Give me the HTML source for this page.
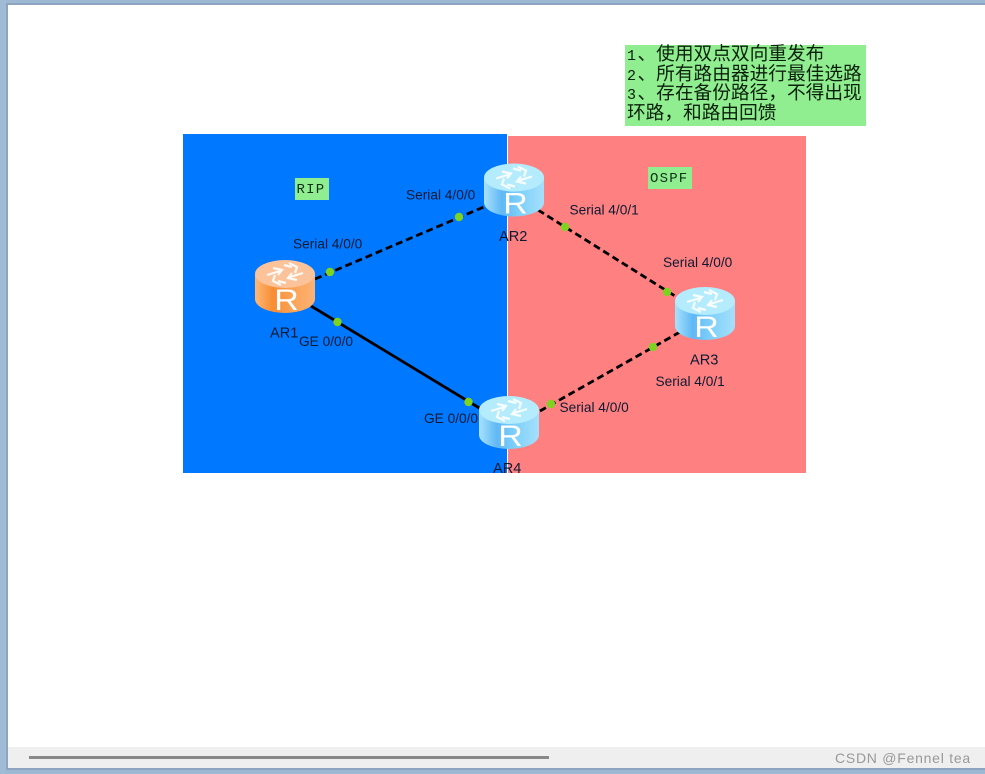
<!DOCTYPE html>
<html>
<head>
<meta charset="utf-8">
<style>
html,body{margin:0;padding:0;background:#fff;}
body{width:985px;height:774px;overflow:hidden;}
svg{display:block;}
.l{font-family:"Liberation Sans",sans-serif;font-size:13.7px;fill:#0b1a33;}
.a{font-family:"Liberation Sans",sans-serif;font-size:14.6px;fill:#0b1a33;}
.c{font-family:"Liberation Sans","WenQuanYi Zen Hei",sans-serif;font-size:18.7px;fill:#0a200a;}
.m{font-family:"Liberation Mono",monospace;font-size:14px;fill:#10301a;letter-spacing:1.2px;}
</style>
</head>
<body>
<svg width="985" height="774" viewBox="0 0 985 774" xmlns="http://www.w3.org/2000/svg">
<defs>
<linearGradient id="bb" x1="0" x2="1" y1="0" y2="0">
<stop offset="0" stop-color="#a8e2fb"/><stop offset=".3" stop-color="#5fb8f5"/><stop offset=".6" stop-color="#7fd0fa"/><stop offset="1" stop-color="#a5e0fb"/>
</linearGradient>
<linearGradient id="bo" x1="0" x2="1" y1="0" y2="0">
<stop offset="0" stop-color="#fdb877"/><stop offset=".3" stop-color="#f88d33"/><stop offset=".6" stop-color="#fba255"/><stop offset="1" stop-color="#fdb274"/>
</linearGradient>
<g id="arrows" fill="none" stroke="#fff" stroke-width="2.2" opacity=".9">
<path d="M12 15 L25 11 M18 8 L27 10 L23 15"/>
<path d="M48 13 L35 17 M42 20 L33 18 L37 13"/>
<path d="M23 21 L31 23 M20 15 L18 21 L26 25"/>
<path d="M37 7 L29 5 M40 13 L42 7 L34 3"/>
</g>
<g id="rb">
<path d="M0 14 V39 A30 14 0 0 0 60 39 V14 Z" fill="url(#bb)"/>
<ellipse cx="30" cy="14" rx="30" ry="14" fill="#b4ecfd"/>
<use href="#arrows"/>
<text transform="translate(31.5 50) scale(1.13 1)" text-anchor="middle" font-family="Liberation Sans, sans-serif" font-size="30" fill="#fff">R</text>
</g>
<g id="ro">
<path d="M0 14 V39 A30 14 0 0 0 60 39 V14 Z" fill="url(#bo)"/>
<ellipse cx="30" cy="14" rx="30" ry="14" fill="#fcc39a"/>
<use href="#arrows"/>
<text transform="translate(31.5 50) scale(1.13 1)" text-anchor="middle" font-family="Liberation Sans, sans-serif" font-size="30" fill="#fff">R</text>
</g>
</defs>

<!-- window frame -->
<rect width="985" height="774" fill="#9db8d2"/>
<rect x="6" y="3" width="979" height="767" fill="#8fa5bf"/>
<rect x="8" y="5" width="977" height="763" fill="#fff"/>
<rect x="0" y="0" width="6" height="774" fill="#a0bbd6"/>
<rect x="8" y="747" width="977" height="21" fill="#efefef"/>
<rect x="29" y="756" width="520" height="3" fill="#888"/>
<text x="835" y="763" font-family="Liberation Sans, sans-serif" font-size="14" letter-spacing=".75" fill="#999">CSDN @Fennel tea</text>

<!-- areas -->
<rect x="183" y="134" width="324" height="339" fill="#0078ff"/>
<rect x="508" y="136" width="298" height="337" fill="#ff8080"/>

<!-- note -->
<rect x="625" y="45" width="241" height="81" fill="#90ee90"/>
<text class="c" x="627" y="60"><tspan font-family="Liberation Mono" font-size="15">1</tspan><tspan x="637.5">、使用双点双向重发布</tspan></text>
<text class="c" x="627" y="80"><tspan font-family="Liberation Mono" font-size="15">2</tspan><tspan x="637.5">、所有路由器进行最佳选路</tspan></text>
<text class="c" x="627" y="99"><tspan font-family="Liberation Mono" font-size="15">3</tspan><tspan x="637.5">、存在备份路径，不得出现</tspan></text>
<text class="c" x="627" y="119">环路，和路由回馈</text>

<rect x="295" y="178" width="34" height="22" fill="#90ee90"/>
<text class="m" x="296.5" y="193">RIP</text>
<rect x="648" y="167" width="44" height="22" fill="#90ee90"/>
<text class="m" x="650" y="182">OSPF</text>

<!-- links -->
<g stroke="#000" stroke-width="2.8" fill="none">
<line x1="315" y1="279" x2="486" y2="206" stroke-dasharray="7 4"/>
<line x1="538" y1="210" x2="675" y2="296" stroke-dasharray="7 4"/>
<line x1="680" y1="332" x2="540" y2="411" stroke-dasharray="7 4"/>
<line x1="311" y1="306" x2="481" y2="409"/>
</g>
<g fill="#7ed321">
<circle cx="330" cy="272" r="4.2"/><circle cx="459" cy="217" r="4.2"/>
<circle cx="565" cy="227" r="4.2"/><circle cx="667" cy="292" r="4.2"/>
<circle cx="653" cy="347" r="4.2"/><circle cx="551" cy="404" r="4.2"/>
<circle cx="337.5" cy="322" r="4.2"/><circle cx="468.5" cy="402" r="4.2"/>
</g>

<!-- routers -->
<use href="#ro" x="255" y="260"/>
<use href="#rb" x="484" y="163.5"/>
<use href="#rb" x="675" y="287"/>
<use href="#rb" x="479" y="396"/>

<!-- labels -->
<text class="a" x="270" y="337.5">AR1</text>
<text class="a" x="499" y="241">AR2</text>
<text class="a" x="690" y="364.5">AR3</text>
<text class="a" x="493" y="473">AR4</text>
<text class="l" x="293" y="248.5">Serial 4/0/0</text>
<text class="l" x="406" y="199.5">Serial 4/0/0</text>
<text class="l" x="569.5" y="214.5">Serial 4/0/1</text>
<text class="l" x="663" y="267">Serial 4/0/0</text>
<text class="l" x="655.5" y="386">Serial 4/0/1</text>
<text class="l" x="559.5" y="412">Serial 4/0/0</text>
<text class="l" x="299" y="346">GE 0/0/0</text>
<text class="l" x="424" y="423">GE 0/0/0</text>
</svg>
</body>
</html>
